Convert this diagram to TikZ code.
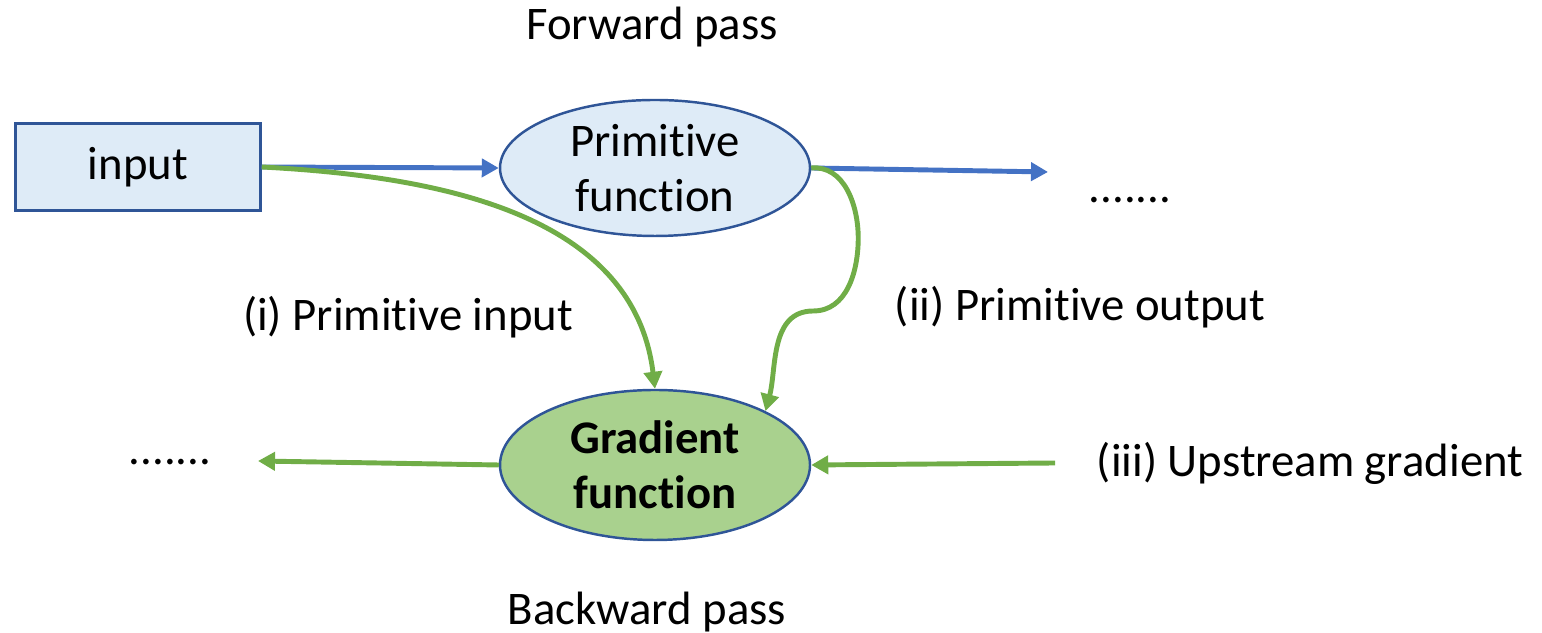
\documentclass[tikz,border=0pt]{standalone}
\usepackage{fontspec}
\setmainfont{Carlito}[Ligatures=NoCommon]
\usetikzlibrary{arrows.meta,positioning,shapes.geometric}
\definecolor{boxfill}{HTML}{DEEBF7}
\definecolor{edgeblue}{HTML}{2F5597}
\definecolor{fwdblue}{HTML}{4472C4}
\definecolor{bwdgreen}{HTML}{70AD47}
\definecolor{gradfill}{HTML}{A9D18E}

\begin{document}
\begin{tikzpicture}[
    font=\fontsize{13.3}{15.6}\selectfont,
    box/.style={draw=edgeblue, fill=boxfill, line width=0.7pt,
        minimum width=2.45cm, minimum height=0.87cm},
    func/.style={ellipse, draw=edgeblue, line width=0.7pt, align=center,
        inner sep=0pt, minimum width=3.1cm},
    fwd/.style={-{Triangle[length=0.17cm, width=0.18cm]}, line width=1.4pt, draw=fwdblue},
    bwd/.style={-{Triangle[length=0.17cm, width=0.18cm]}, line width=1.4pt, draw=bwdgreen}
]
\useasboundingbox (0,0) rectangle (15.42,6.33);

\node[box] (input) at (1.38,4.66) {input};
\node[func, fill=boxfill, minimum height=1.36cm] (primitive) at (6.55,4.65) {Primitive\\function};
\node[func, fill=gradfill, minimum height=1.5cm, font=\fontsize{13.3}{15.6}\selectfont\bfseries]
    (gradient) at (6.55,1.68) {Gradient\\function};

\node (forward) at (6.52,6.06) {Forward pass};
\node (backward) at (6.47,0.21) {Backward pass};
\node (dotsout) at (11.30,4.33) {.......};
\node (dotsback) at (1.70,1.71) {.......};
\node (priminput) at (4.08,3.16) {(i) Primitive input};
\node (primoutput) at (10.80,3.26) {(ii) Primitive output};
\node (upstream) at (13.10,1.70) {(iii) Upstream gradient};

\coordinate (outend) at (10.48,4.61);
\coordinate (upstart) at (10.55,1.70);
\coordinate (backend) at (2.58,1.72);

\draw[fwd] (input.east) -- (primitive.west);
\draw[fwd] (primitive.east) -- (outend);
\draw[bwd] (input.east) to[out=-3, in=97] (gradient.north);
\draw[bwd] (primitive.east) to[out=5, in=90] ++(0.47,-0.70)
    to[out=-90, in=0] ++(-0.45,-0.73) to[out=180, in=75] (gradient.north east);
\draw[bwd] (upstart) -- (gradient.east);
\draw[bwd] (gradient.west) -- (backend);
\end{tikzpicture}
\end{document}
